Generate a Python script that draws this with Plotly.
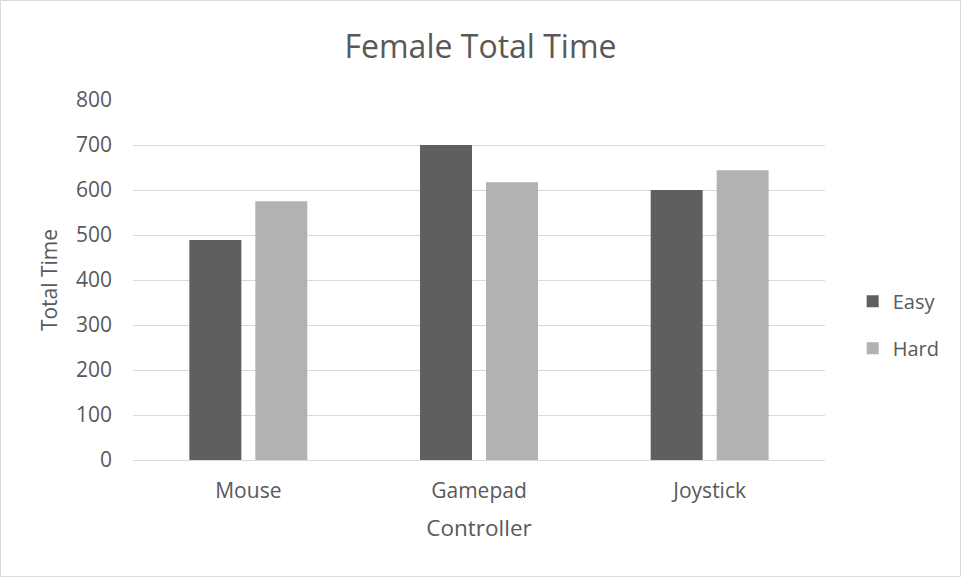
import plotly.graph_objects as go

controllers = ["Mouse", "Gamepad", "Joystick"]
easy_times = [489, 700, 600]
hard_times = [575, 617, 644]
y_ticks = [0, 100, 200, 300, 400, 500, 600, 700, 800]

FONT = "Open Sans, Noto Sans, sans-serif"
TEXT = "#595959"
GRID = "#d9d9d9"

fig = go.Figure()
fig.add_trace(go.Bar(name="Easy", x=controllers, y=easy_times,
                     marker=dict(color="#5f5f5f", line=dict(width=0)),
                     legendgroup="easy"))
fig.add_trace(go.Bar(name="Hard", x=controllers, y=hard_times,
                     marker=dict(color="#b2b2b2", line=dict(width=0)),
                     legendgroup="hard"))

fig.update_layout(
    width=961, height=577,
    margin=dict(l=133, r=136, t=100, b=117),
    paper_bgcolor="white", plot_bgcolor="white",
    font=dict(family=FONT, color=TEXT, size=20),
    title=dict(text="Female Total Time", x=0.5, xanchor="center",
               y=1 - 47 / 577, yanchor="middle",
               font=dict(size=32, color=TEXT, family=FONT)),
    barmode="group", bargap=0.428, bargroupgap=0.212,
    legend=dict(x=1.04, y=0.376, xanchor="left", yanchor="middle",
                font=dict(size=20, color=TEXT), tracegroupgap=18,
                itemwidth=30),
    xaxis=dict(showgrid=False, showline=True, linecolor=GRID, linewidth=1,
               ticks="", ticklabelstandoff=12,
               tickfont=dict(size=21, color=TEXT),
               title=dict(text="Controller", font=dict(size=22.5, color=TEXT),
                          standoff=17)),
    yaxis=dict(range=[0, 800], tickvals=y_ticks, showgrid=True,
               gridcolor=GRID, gridwidth=1, zeroline=False, showline=False,
               ticks="", ticklabelstandoff=20,
               tickfont=dict(size=21, color=TEXT),
               title=dict(text="Total Time", font=dict(size=21, color=TEXT),
                          standoff=12)),
    shapes=[dict(type="rect", xref="paper", yref="paper",
                 x0=-133 / 692 + 0.5 / 692, x1=1 + 135.5 / 692,
                 y0=-117 / 360 + 0.5 / 360, y1=1 + 99.5 / 360,
                 line=dict(color=GRID, width=1), layer="below")],
)

fig.write_html("out.html")
